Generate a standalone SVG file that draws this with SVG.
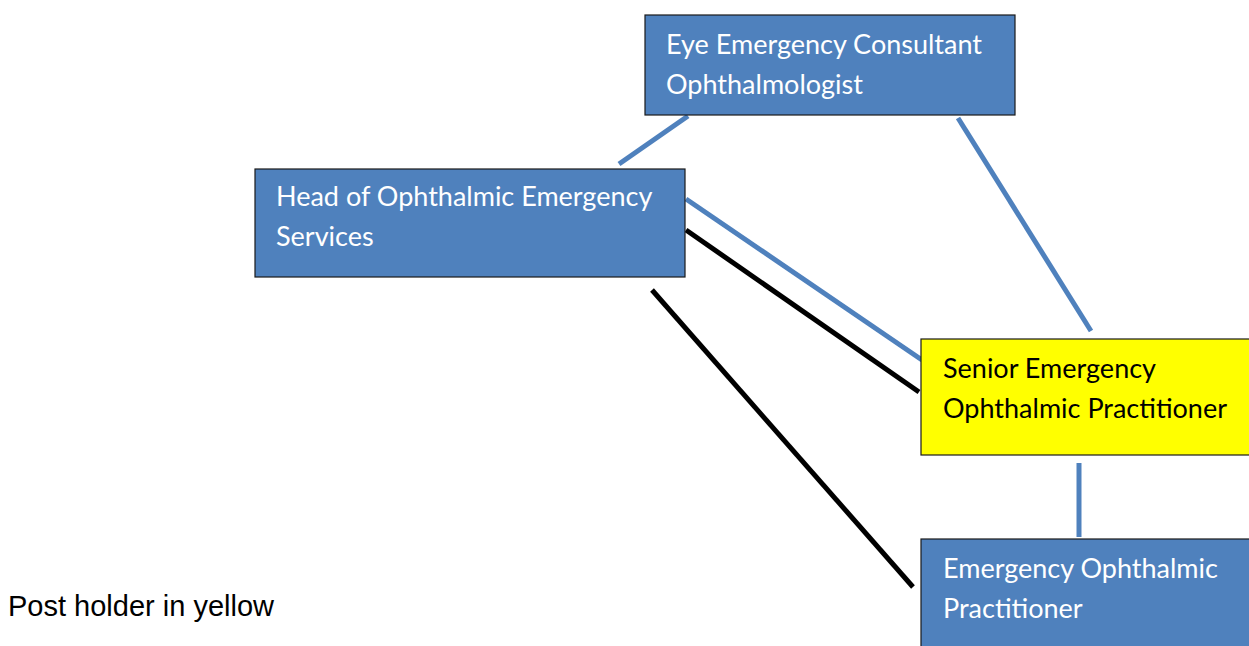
<svg xmlns="http://www.w3.org/2000/svg" width="1249" height="646" viewBox="0 0 1249 646">
<style>
.box{fill:#4F81BD;stroke:#1a1a1a;stroke-width:1.2}
.post{fill:#FFFF00;stroke:#1a1a1a;stroke-width:1.2}
.t{font-family:Lato,"Open Sans","Liberation Sans",sans-serif;font-size:27px;fill:#FFFFFF}
.tk{font-family:Lato,"Open Sans","Liberation Sans",sans-serif;font-size:27px;fill:#000000}
.blue{stroke:#4F81BD;stroke-width:5;fill:none}
.black{stroke:#000000;stroke-width:5;fill:none}
</style>
<rect width="1249" height="646" fill="#FFFFFF"/>
<g id="connectors">
<line class="blue" x1="688" y1="116" x2="619" y2="164"/>
<line class="blue" x1="958" y1="118" x2="1091" y2="331"/>
<line class="blue" x1="686" y1="199" x2="922" y2="360"/>
<line class="black" x1="686" y1="230" x2="919" y2="392"/>
<line class="black" x1="652" y1="290" x2="913" y2="587"/>
<line class="blue" x1="1079" y1="463" x2="1079" y2="537" stroke-width="6"/>
</g>
<g id="node-consultant">
<rect class="box" x="645" y="15" width="370" height="100"/>
<text class="t" x="666" y="54">Eye Emergency Consultant</text>
<text class="t" x="666" y="94">Ophthalmologist</text>
</g>
<g id="node-head">
<rect class="box" x="255" y="169" width="430" height="108"/>
<text class="t" x="276" y="206">Head of Ophthalmic Emergency</text>
<text class="t" x="276" y="246">Services</text>
</g>
<g id="node-senior">
<rect class="post" x="921" y="339" width="340" height="116"/>
<text class="tk" x="943" y="378">Senior Emergency</text>
<text class="tk" x="943" y="418">Ophthalmic Practitioner</text>
</g>
<g id="node-practitioner">
<rect class="box" x="921" y="539" width="340" height="120"/>
<text class="t" x="943" y="578">Emergency Ophthalmic</text>
<text class="t" x="943" y="618">Practitioner</text>
</g>
<g id="legend">
<text x="8" y="616" font-family="'Liberation Sans',Arial,sans-serif" font-size="29" fill="#000000">Post holder in yellow</text>
</g>
</svg>
